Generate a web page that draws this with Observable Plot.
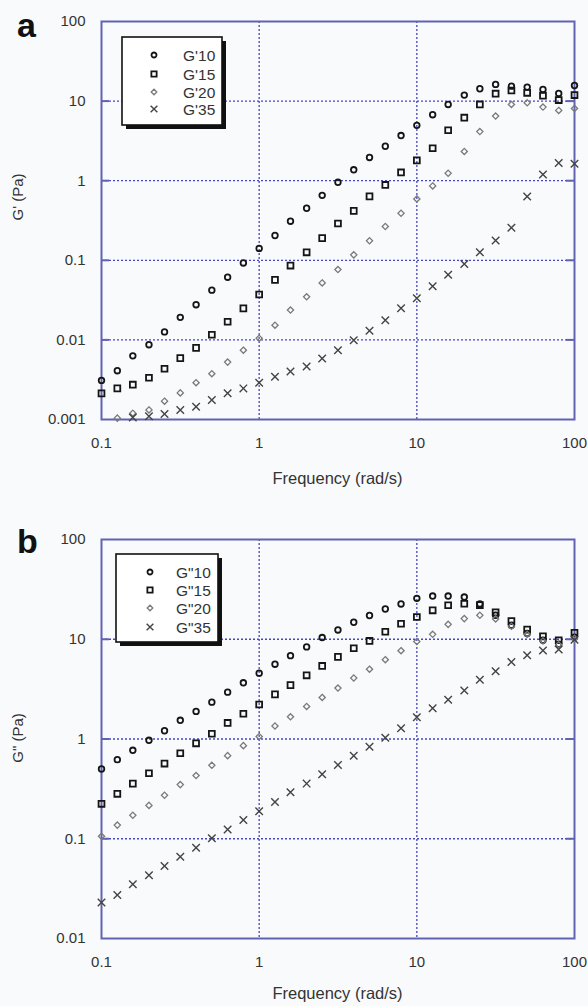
<!DOCTYPE html>
<html><head><meta charset="utf-8">
<script src="https://cdn.jsdelivr.net/npm/d3@7"></script>
<script src="https://cdn.jsdelivr.net/npm/@observablehq/plot@0.6"></script>
<style>
body{margin:0;background:#f9fafc;font-family:"Liberation Sans",Arial,sans-serif;}
#wrap{position:relative;width:588px;height:1006px;overflow:hidden;background:#f9fafc;}
#wrap svg{position:absolute;left:0;}
</style></head>
<body><div id="wrap"></div>
<script>
// Frequencies (rad/s)
const freq = [0.1,0.126,0.158,0.2,0.251,0.316,0.398,0.501,0.631,0.794,1,1.26,1.58,2,2.51,3.16,3.98,5.01,6.31,7.94,10,12.6,15.8,20,25.1,31.6,39.8,50.1,63.1,79.4,100];

// Panel a: G' (Pa)
const gp10 = [0.0031,0.0041,0.0063,0.0087,0.0126,0.0192,0.0277,0.0422,0.0613,0.0926,0.141,0.205,0.31,0.451,0.655,0.955,1.37,1.96,2.71,3.69,4.96,6.75,9.08,11.9,14.3,16.2,15.4,15.0,14.0,12.5,15.7];
const gp15 = [0.00213,0.00246,0.00274,0.00335,0.00434,0.0059,0.00794,0.0116,0.0169,0.0249,0.0372,0.0568,0.0858,0.126,0.19,0.29,0.418,0.635,0.885,1.27,1.8,2.56,4.3,6.19,9.08,12.4,13.6,12.7,11.7,10.3,11.9];
const gp20 = [null,0.00104,0.0012,0.00132,0.0017,0.00216,0.0029,0.00376,0.00526,0.00743,0.0105,0.0153,0.0237,0.0348,0.052,0.0765,0.117,0.176,0.266,0.39,0.59,0.86,1.24,2.33,4.14,6.49,9.08,9.53,8.41,7.64,8.09];
const gp35 = [null,null,0.00106,0.0011,0.00117,0.00132,0.00145,0.00176,0.00213,0.00246,0.0029,0.00345,0.00402,0.00464,0.00585,0.00743,0.0099,0.013,0.0176,0.0249,0.0333,0.0471,0.0659,0.09,0.126,0.177,0.257,0.634,1.2,1.67,1.63];

// Panel b: G'' (Pa)
const gpp10 = [0.501,0.621,0.77,0.97,1.21,1.54,1.89,2.34,2.95,3.66,4.57,5.62,6.85,8.38,10.4,12.4,14.8,17.3,20.1,22.6,25.7,27.1,27.1,26.5,22.6,17.4,13.8,11.4,9.77,8.9,10.5];
const gpp15 = [0.224,0.282,0.357,0.454,0.567,0.719,0.905,1.13,1.45,1.79,2.22,2.8,3.47,4.35,5.4,6.66,8.13,9.62,11.9,14.3,16.7,19.5,21.9,22.7,22.0,18.6,15.2,12.5,10.7,9.77,11.6];
const gpp20 = [0.106,0.137,0.172,0.216,0.273,0.349,0.43,0.545,0.681,0.858,1.06,1.35,1.67,2.12,2.61,3.24,4.09,5.01,6.24,7.68,9.48,11.2,14.1,16.1,17.4,16.0,13.5,11.2,9.6,8.8,10.2];
const gpp35 = [0.0229,0.0273,0.035,0.043,0.0533,0.066,0.0813,0.101,0.124,0.154,0.189,0.234,0.293,0.357,0.443,0.55,0.681,0.838,1.03,1.28,1.65,2.03,2.47,3.07,3.92,4.79,5.9,6.9,7.7,7.9,9.9];

// Series names
const namesA = ["G'10","G'15","G'20","G'35"];
const namesB = ['G"10','G"15','G"20','G"35'];

// Tick values and labels
const xTicks = [0.1,1,10,100];
const xTickLabels = ["0.1","1","10","100"];
const yTicksA = [0.001,0.01,0.1,1,10,100];
const yTickLabelsA = ["0.001","0.01","0.1","1","10","100"];
const yTicksB = [0.01,0.1,1,10,100];
const yTickLabelsB = ["0.01","0.1","1","10","100"];

// Styles
const symbols = ["circle","square","diamond2","times"];
const strokes = ["#151515","#151515","#7a7a7a","#444444"];
const radii = [2.8,3.3,2.8,3.5];
const widths = [1.8,1.8,1.3,1.4];
const gridColor = "#4646c2";
const frameColor = "#6262b2";
const W = 588, ML = 101, MR = 14;

function rowsOf(vals){
  const out = [];
  vals.forEach((v,i)=>{ if(v!=null) out.push({f: freq[i], v}); });
  return out;
}

function panel(seriesVals, yDomain, yTicks, yTickLabels, height, mt, mb, top){
  const fw = W - ML - MR;
  const xl = new Map(xTicks.map((t,i)=>[t,xTickLabels[i]]));
  const yl = new Map(yTicks.map((t,i)=>[t,yTickLabels[i]]));
  const inner = yTicks.slice(1,-1);
  const svg = Plot.plot({
    width: W, height, marginLeft: ML, marginRight: MR, marginTop: mt, marginBottom: mb,
    style: {background: "transparent", fontFamily: "'Liberation Sans', Arial, sans-serif", fontSize: "15px", color: "#333", overflow: "visible"},
    x: {type: "log", domain: [0.1,100]},
    y: {type: "log", domain: yDomain},
    marks: [
      Plot.ruleX([1,10], {x: d=>d, stroke: gridColor, strokeWidth: 1.3, strokeDasharray: "2,2"}),
      Plot.ruleY(inner, {y: d=>d, stroke: gridColor, strokeWidth: 1.3, strokeDasharray: "2,2"}),
      Plot.tickY(inner, {y: d=>d, stroke: frameColor, strokeWidth: 2, insetRight: fw-8}),
      Plot.tickY(inner, {y: d=>d, stroke: frameColor, strokeWidth: 2, insetLeft: fw-8}),
      Plot.axisX(xTicks, {tickSize: 0, tickPadding: 18, tickFormat: d=>xl.get(d), label: null, fill: "#333"}),
      Plot.axisY(yTicks, {tickSize: 0, tickPadding: 16, tickFormat: d=>yl.get(d), label: null, fill: "#333"}),
      Plot.frame({stroke: frameColor, strokeWidth: 2}),
      ...seriesVals.map((vals,k)=>Plot.dot(rowsOf(vals), {x: "f", y: "v", symbol: symbols[k], r: radii[k], stroke: strokes[k], strokeWidth: widths[k], fill: "none"}))
    ]
  });
  svg.style.top = top + "px";
  return svg;
}

const wrap = document.getElementById("wrap");
wrap.appendChild(panel([gp10,gp15,gp20,gp35], [0.001,100], yTicksA, yTickLabelsA, 490, 21, 71, 0));
wrap.appendChild(panel([gpp10,gpp15,gpp20,gpp35], [0.01,100], yTicksB, yTickLabelsB, 516, 49, 68, 490));

// Overlay: panel letters, axis titles, legends
const ov = d3.select(wrap).append("svg").attr("width", W).attr("height", 1006)
  .style("top","0px").style("font-family","'Liberation Sans', Arial, sans-serif");

ov.append("text").attr("x",17).attr("y",37).attr("font-size",34).attr("font-weight","bold").attr("fill","#111").text("a");
ov.append("text").attr("x",17).attr("y",553).attr("font-size",34).attr("font-weight","bold").attr("fill","#111").text("b");

ov.append("text").attr("transform","translate(23,197) rotate(-90)").attr("text-anchor","middle").attr("font-size",15).attr("fill","#333").text("G' (Pa)");
ov.append("text").attr("transform","translate(23,738) rotate(-90)").attr("text-anchor","middle").attr("font-size",15).attr("fill","#333").text('G" (Pa)');

ov.append("text").attr("x",337.5).attr("y",484).attr("text-anchor","middle").attr("font-size",16.5).attr("fill","#333").text("Frequency (rad/s)");
ov.append("text").attr("x",337.5).attr("y",999).attr("text-anchor","middle").attr("font-size",16.5).attr("fill","#333").text("Frequency (rad/s)");

const symMap = {circle: d3.symbolCircle, square: d3.symbolSquare, diamond2: d3.symbolDiamond2, times: d3.symbolTimes};
function legend(names, x, y, w, h, sx, tx, rows){
  const g = ov.append("g");
  g.append("rect").attr("x",x+4).attr("y",y+4).attr("width",w).attr("height",h).attr("fill","#111");
  g.append("rect").attr("x",x).attr("y",y).attr("width",w).attr("height",h).attr("fill","#fff").attr("stroke","#111").attr("stroke-width",1.6);
  names.forEach((n,k)=>{
    const r = radii[k]*0.9;
    g.append("path").attr("d", d3.symbol(symMap[symbols[k]], r*r*Math.PI)()).attr("transform",`translate(${sx},${rows[k]})`)
      .attr("fill","none").attr("stroke",strokes[k]).attr("stroke-width",widths[k]);
    g.append("text").attr("x",tx).attr("y",rows[k]+5.5).attr("font-size",15.5).attr("fill","#333").text(n);
  });
}
legend(namesA, 122, 37, 100, 88, 154, 183, [55,74,92,109]);
legend(namesB, 116, 554, 102, 88, 150, 176, [572,590,608,627]);
</script>
</body></html>
